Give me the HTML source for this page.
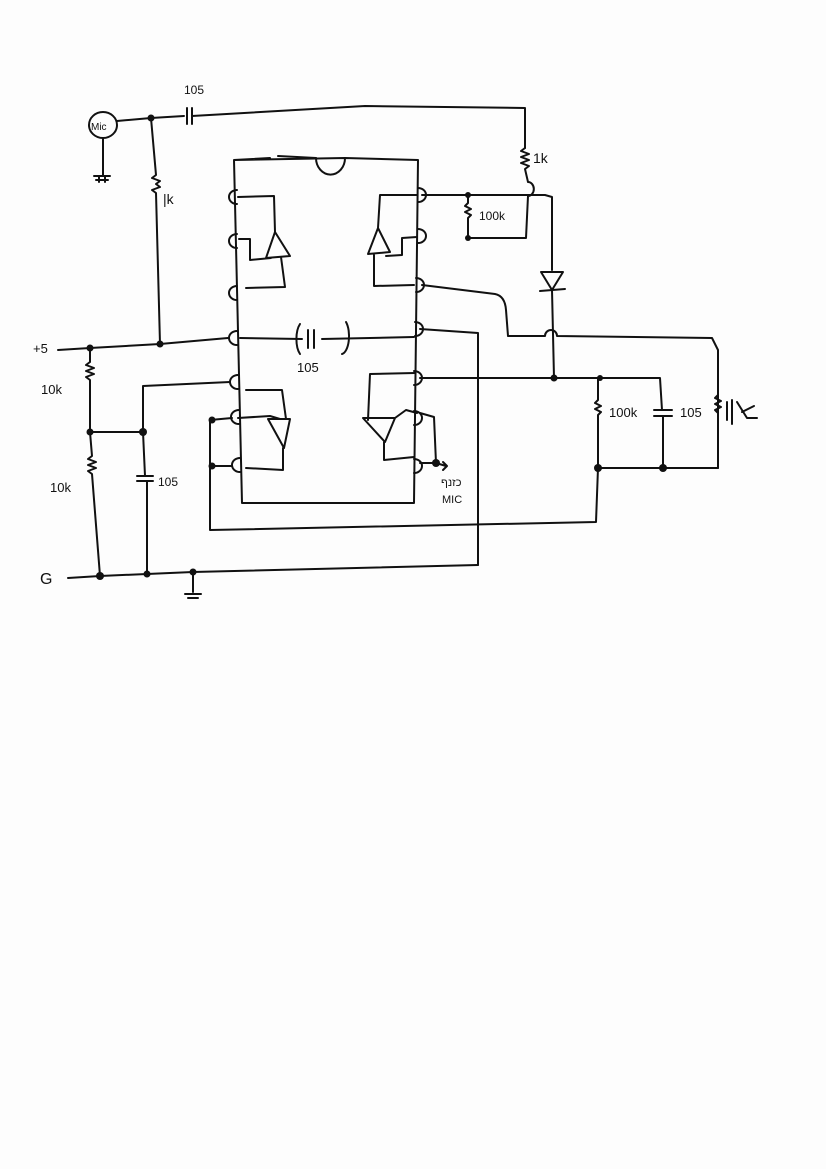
<!DOCTYPE html>
<html><head><meta charset="utf-8"><style>
html,body{margin:0;padding:0;background:#fff}
svg{display:block}
text{font-family:"Liberation Sans",sans-serif;fill:#111}
</style></head><body>
<svg width="826" height="1169" viewBox="0 0 826 1169" xmlns="http://www.w3.org/2000/svg">
<rect width="826" height="1169" fill="#fdfdfd"/>
<g fill="none" stroke="#111" stroke-width="2" stroke-linecap="round" stroke-linejoin="round">
<!-- mic -->
<ellipse cx="103" cy="125" rx="14" ry="13"/>
<path d="M103 138 L103 175 M94 176 L110 176 M96 180 L108 180 M99 176 L99 182 M105 176 L105 182"/>
<path d="M117 121 L151 118 L184 116"/>
<path d="M187 108 L187 124 M192 108 L192 124"/>
<path d="M192 116 L365 106 L525 108 L525 148"/>
<path d="M525 148 l-4 3 l8 3 l-8 3 l8 3 l-8 3 l8 3 l-4 3 L528 182 a5 6 0 0 1 0 14 L526 238 L468 238"/>
<!-- left 1k -->
<path d="M151 118 L156 175 l-4 3 l8 3 l-4 3 l4 3 l-8 3 l4 3 L160 344"/>
<!-- IC box -->
<path d="M234 160 L270 158 M278 156 L316 158 M345 158 L418 160 L414 503 L242 503 L234 160 Z"/>
<path d="M316 158 a14 16 0 0 0 29 0"/>
<!-- left pins -->
<path d="M237 190 a8 7 0 0 0 0 14 M237 234 a8 7 0 0 0 0 14 M237 286 a8 7 0 0 0 0 14 M237 331 a8 7 0 0 0 0 14 M238 375 a8 7 0 0 0 0 14 M239 410 a8 7 0 0 0 0 14 M240 458 a8 7 0 0 0 0 14"/>
<!-- right pins -->
<path d="M418 188 a8 7 0 0 1 0 14 M418 229 a8 7 0 0 1 0 14 M416 278 a8 7 0 0 1 0 14 M415 322 a8 7 0 0 1 0 14 M414 371 a8 7 0 0 1 0 14 M414 411 a8 7 0 0 1 0 14 M414 459 a8 7 0 0 1 0 14"/>
<!-- opamps -->
<path d="M266 258 L275 232 L290 256 Z M238 197 L274 196 L275 232 M239 239 L250 239 L250 260 L271 258 M281 257 L285 287 L246 288"/>
<path d="M368 254 L378 228 L390 252 Z M417 195 L380 195 L378 228 M417 237 L402 238 L402 255 L386 256 M374 254 L374 286 L414 285"/>
<path d="M268 419 L290 419 L284 448 Z M238 418 L270 416 L280 419 M246 390 L282 390 L286 419 M283 448 L283 470 L246 468"/>
<path d="M363 418 L395 418 L385 442 Z M415 373 L370 374 L368 420 M417 413 L406 410 L395 418 M384 442 L384 460 L414 457"/>
<!-- +5 line -->
<path d="M58 350 L90 348 L160 344 L228 338"/>
<path d="M240 338 L302 339 M322 339 L414 337"/>
<path d="M308 330 L308 348 M314 330 L314 348"/>
<path d="M300 324 a8 18 0 0 0 0 30 M346 322 a8 18 0 0 1 -4 32"/>
<!-- divider -->
<path d="M90 348 L90 362 l-4 3 l8 3 l-8 3 l8 3 l-8 3 l4 3 L90 432 L143 432"/>
<path d="M90 432 L92 456 l-4 3 l8 3 l-8 3 l8 3 l-8 3 l4 3 L100 576"/>
<path d="M68 578 L100 576 L147 574 L193 572 L478 565"/>
<path d="M193 572 L193 592 M185 594 L201 594 M188 598 L198 598"/>
<path d="M143 432 L143 386 L230 382 M143 432 L145 476 M137 476 L153 476 M137 481 L153 481 M147 481 L147 574"/>
<!-- bottom loop -->
<path d="M232 418 L210 420 L210 530 L596 522 L598 468 M232 466 L212 466"/>
<!-- right side -->
<path d="M422 195 L468 195 L545 195 L552 197 L552 270"/>
<path d="M468 195 L468 203 l-3 3 l6 3 l-6 3 l6 3 l-3 3 L468 238"/>
<path d="M541 272 L563 272 L552 290 Z M540 291 L565 289 M552 290 L554 378"/>
<path d="M422 285 L495 294 Q505 296 506 310 L508 336 L545 336 a6 6 0 0 1 12 0 L712 338 L718 350 L718 468"/>
<path d="M420 329 L478 333 L478 565"/>
<path d="M420 378 L554 378 L600 378 L660 378 L662 410 M654 410 L672 410 M654 416 L672 416 M663 416 L663 468"/>
<path d="M598 378 L598 400 l-3 3 l6 3 l-6 3 l6 3 l-3 3 L598 468 L663 468 L718 468"/>
<path d="M718 395 l-3 3 l6 3 l-6 3 l6 3 l-6 3 l3 3 M727 402 L727 420 M732 400 L732 424 M737 402 L747 418 L757 418 M742 412 L754 406"/>
<path d="M420 463 L436 463 L446 466 M443 462 L447 466 L443 470 M420 413 L434 417 L436 463"/>
</g>
<g fill="#111">
<circle cx="151" cy="118" r="3.5"/><circle cx="160" cy="344" r="3.5"/><circle cx="90" cy="348" r="3.5"/>
<circle cx="90" cy="432" r="3.5"/><circle cx="143" cy="432" r="4"/><circle cx="100" cy="576" r="4"/>
<circle cx="147" cy="574" r="3.5"/><circle cx="193" cy="572" r="3.5"/><circle cx="212" cy="420" r="3.5"/>
<circle cx="212" cy="466" r="3.5"/><circle cx="468" cy="195" r="3"/><circle cx="468" cy="238" r="3"/>
<circle cx="554" cy="378" r="3.5"/><circle cx="600" cy="378" r="3"/><circle cx="598" cy="468" r="4"/>
<circle cx="663" cy="468" r="4"/><circle cx="436" cy="463" r="4"/>
</g>
<text x="91" y="130" font-size="10">Mic</text>
<text x="184" y="94" font-size="12">105</text>
<text x="163" y="204" font-size="14">|k</text>
<text x="33" y="353" font-size="13">+5</text>
<text x="41" y="394" font-size="13">10k</text>
<text x="50" y="492" font-size="13">10k</text>
<text x="158" y="486" font-size="12">105</text>
<text x="297" y="372" font-size="13">105</text>
<text x="40" y="584" font-size="16">G</text>
<text x="533" y="163" font-size="14">1k</text>
<text x="479" y="220" font-size="12">100k</text>
<text x="609" y="417" font-size="13">100k</text>
<text x="680" y="417" font-size="13">105</text>
<text x="441" y="486" font-size="11" font-family="Liberation Sans, sans-serif">כזנף</text>
<text x="442" y="503" font-size="11">MIC</text>
</svg>
</body></html>
